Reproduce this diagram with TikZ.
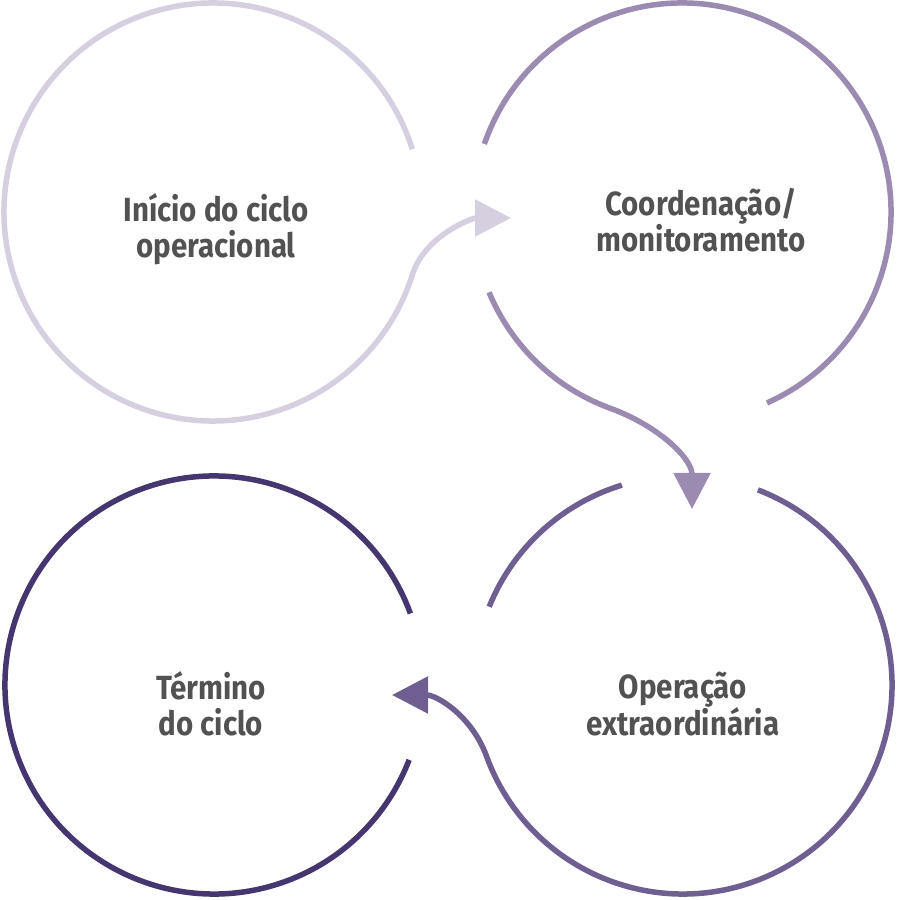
\documentclass[tikz,border=0pt]{standalone}
\usepackage{fontspec}
\setmainfont{Fira Sans}
\newfontfamily\labfont{Fira Sans}[FakeStretch=0.88]
\usetikzlibrary{arrows.meta}
\definecolor{cA}{HTML}{D5CFE0}
\definecolor{cB}{HTML}{9B8BB0}
\definecolor{cC}{HTML}{6F5F91}
\definecolor{cD}{HTML}{46366F}
\definecolor{txt}{HTML}{525252}
\begin{document}
\begin{tikzpicture}[x=1pt,y=1pt,
  ring/.style={line width=5.5pt},
  link/.style={line width=5.5pt,-{Triangle[length=36pt,width=36pt]}},
  lab/.style={align=center,text=txt,font=\labfont\bfseries\fontsize{33.5}{36}\selectfont,inner sep=0pt}]
\useasboundingbox (0,0) rectangle (900,900);
\def\R{209}
\coordinate (c1) at (213,688);
\coordinate (c2) at (682,688);
\coordinate (c3) at (683,215);
\coordinate (c4) at (214,215);
\coordinate (tip1) at (511,682);
\coordinate (tip2) at (692,391);
\coordinate (tip3) at (392,205);
% circle 1 with its connector
\draw[ring,link,cA] (c1) ++(17.5:\R) arc[start angle=17.5,end angle=343,radius=\R]
  to[out=71,in=180,looseness=0.9] (tip1);
% circle 2
\draw[ring,cB] (c2) ++(161:\R) arc[start angle=161,end angle=-66,radius=\R];
\draw[ring,link,cB] (c2) ++(202.6:\R) arc[start angle=202.6,end angle=250,radius=\R]
  to[out=-20,in=90] (tip2);
% circle 3
\draw[ring,cC] (c3) ++(107:\R) arc[start angle=107,end angle=158,radius=\R];
\draw[ring,link,cC] (c3) ++(69:\R) arc[start angle=69,end angle=-160,radius=\R]
  to[out=110,in=0] (tip3);
% circle 4
\draw[ring,cD] (c4) ++(20:\R) arc[start angle=20,end angle=339,radius=\R];
% labels
\node[lab] (t1) at (216,671) {Início do ciclo\\operacional};
\node[lab] (t2) at (701,680) {Coordenação/\\monitoramento};
\node[lab] (t3) at (683,196) {Operação\\extraordinária};
\node[lab] (t4) at (211,196) {Término\\do ciclo};
\end{tikzpicture}
\end{document}
